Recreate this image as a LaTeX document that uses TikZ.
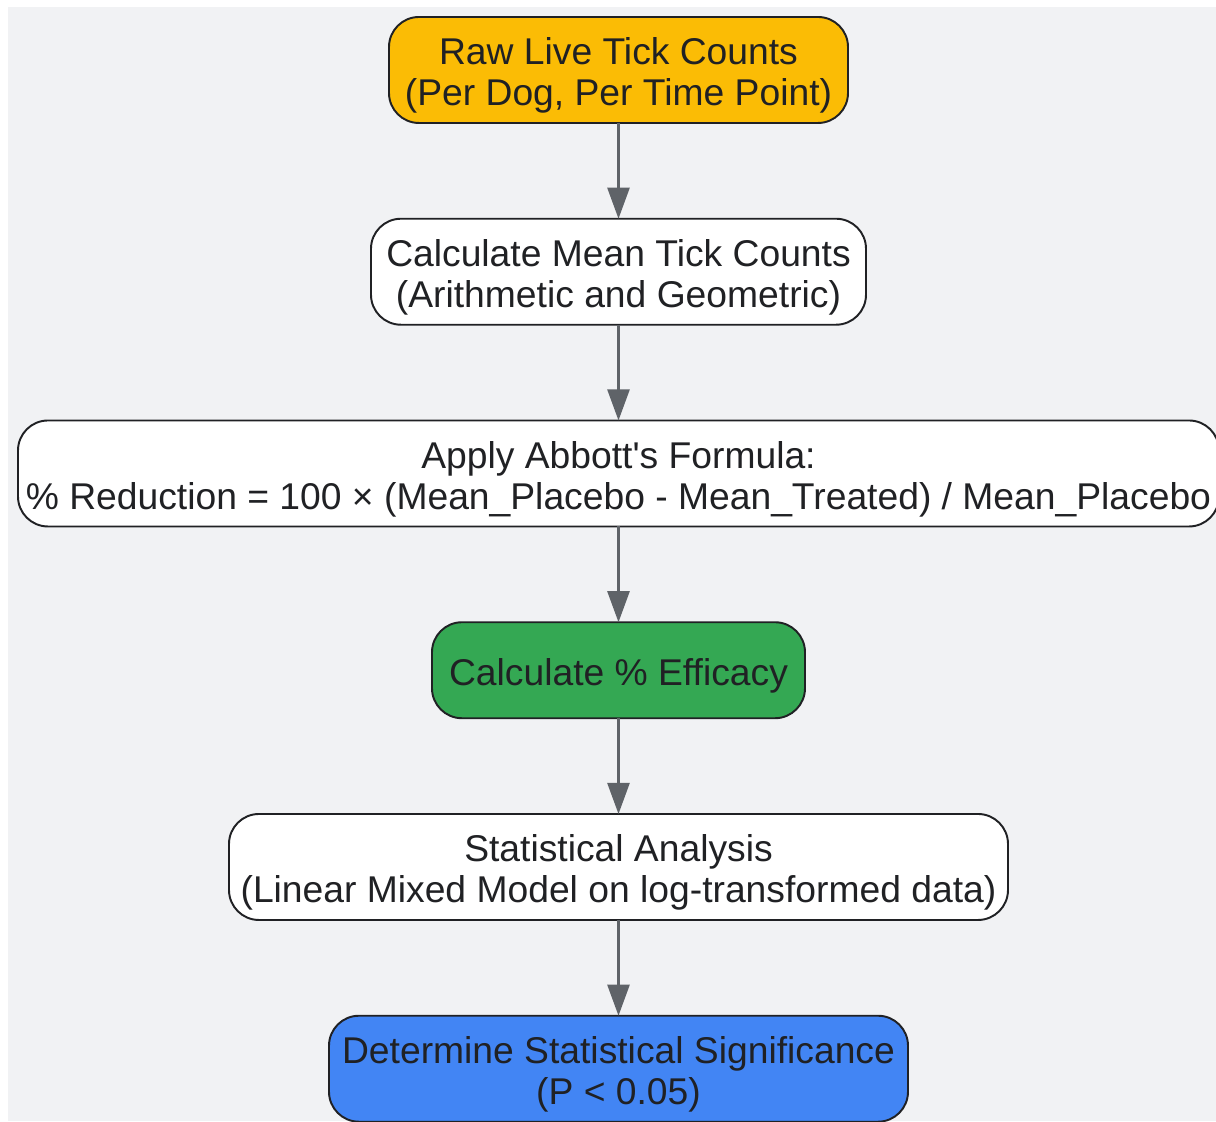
\documentclass[tikz,border=0pt]{standalone}
\usepackage{fontspec}
\setmainfont{Liberation Sans}[Ligatures=TeXOff]
\usepackage{tikz}
\usetikzlibrary{arrows.meta, positioning}

\definecolor{bggray}{HTML}{F1F2F4}
\definecolor{rawyellow}{HTML}{FBBC05}
\definecolor{effgreen}{HTML}{34A853}
\definecolor{sigblue}{HTML}{4285F4}
\definecolor{arrowgray}{HTML}{5F6368}
\definecolor{inkdark}{HTML}{202124}

\begin{document}
\begin{tikzpicture}[
      node distance=1.915cm,
      box/.style={rectangle, draw=inkdark, line width=1.1pt, rounded corners=0.6cm, minimum height=2.12cm, inner sep=0pt, outer sep=0pt, text height=45pt, align=center, text=inkdark, font={\fontsize{21.2}{23.4}\selectfont}},
      onebox/.style={box, minimum height=1.92cm, text height=21.5pt},
      arrow/.style={-{Triangle[length=0.62cm, width=0.44cm]}, line width=1.4pt, draw=arrowgray}
      ]

      % Canvas
      \useasboundingbox (0,0) rectangle (24.32,22.44);
      \fill[bggray] (0.16,0.02) rectangle (24.32,22.30);

      % Input
      \node[box, fill=rawyellow, minimum width=9.18cm] (raw) at (12.37,21.04) {Raw Live Tick Counts\\(Per Dog, Per Time Point)};

      % Means and formula
      \node[box, fill=white, below=of raw, minimum width=9.9cm] (means) {Calculate Mean Tick Counts\\(Arithmetic and Geometric)};
      \node[box, fill=white, below=of means, minimum width=24.02cm] (abbott) {Apply Abbott's Formula:\\\% Reduction = 100 × (Mean\_Placebo - Mean\_Treated) / Mean\_Placebo};

      % Efficacy
      \node[onebox, fill=effgreen, below=of abbott, minimum width=7.46cm] (efficacy) {Calculate \% Efficacy};

      % Statistics
      \node[box, fill=white, below=of efficacy, minimum width=15.58cm] (stats) {Statistical Analysis\\(Linear Mixed Model on log-transformed data)};
      \node[box, fill=sigblue, below=of stats, minimum width=11.58cm] (signif) {Determine Statistical Significance\\(P < 0.05)};

      % Arrows
      \draw[arrow] (raw) -- (means);
      \draw[arrow] (means) -- (abbott);
      \draw[arrow] (abbott) -- (efficacy);
      \draw[arrow] (efficacy) -- (stats);
      \draw[arrow] (stats) -- (signif);

   \end{tikzpicture}
\end{document}
